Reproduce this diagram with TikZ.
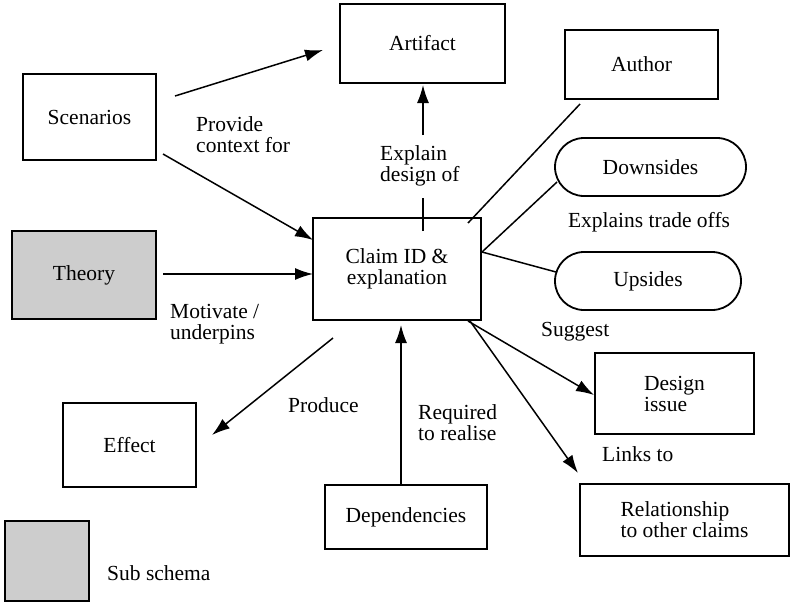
\documentclass[tikz,border=0pt]{standalone}
\usepackage{fontspec}
\setmainfont{Liberation Serif}
\usetikzlibrary{arrows.meta}
\definecolor{subgray}{RGB}{205,205,205}
\tikzset{
  every node/.style={font=\fontsize{21.5}{21}\selectfont},
  box/.style={draw, line width=1.8pt, inner sep=0pt, align=center},
  pill/.style={box, rounded corners=29pt},
  lbl/.style={inner sep=0pt, align=left, anchor=west},
  conn/.style={line width=1.5pt},
  arr/.style={conn, -{Latex[length=18pt,width=12pt]}}
}
\begin{document}
\begin{tikzpicture}[x=1pt, y=-1pt]
  \useasboundingbox (0,0) rectangle (791,603);

  % boxes
  \node[box, minimum width=165pt, minimum height=79pt] (artifact) at (422.5,43.5) {Artifact};
  \node[box, minimum width=133pt, minimum height=86pt] (scen) at (89.5,117) {Scenarios};
  \node[box, fill=subgray, minimum width=144pt, minimum height=88pt] (theory) at (84,275) {Theory};
  \node[box, minimum width=153pt, minimum height=69pt] (author) at (641.5,64.5) {Author};
  \node[pill, minimum width=191pt, minimum height=58pt] (down) at (650.5,167) {Downsides};
  \node[box, minimum width=168pt, minimum height=102pt] (claim) at (397,269) {Claim ID \&\\explanation};
  \node[pill, minimum width=186pt, minimum height=58pt] (up) at (648,281) {Upsides};
  \node[box, align=left, minimum width=159pt, minimum height=81pt] (design) at (674.5,393.5) {Design\\issue};
  \node[box, align=left, minimum width=209pt, minimum height=72pt] (rel) at (684.5,520) {Relationship\\to other claims};
  \node[box, minimum width=133pt, minimum height=84pt] (effect) at (129.5,445) {Effect};
  \node[box, minimum width=162pt, minimum height=64pt] (dep) at (406,517) {Dependencies};
  \node[box, fill=subgray, minimum width=84pt, minimum height=80pt] (sub) at (47,561) {};

  % connector end points
  \coordinate (sA) at (175,96);   \coordinate (aS) at (323,50);
  \coordinate (sC) at (163,154);  \coordinate (cS) at (313,240);
  \coordinate (tC) at (163,274);  \coordinate (cT) at (313,274);
  \coordinate (cA1) at (423,231); \coordinate (cA2) at (423,198);
  \coordinate (cA3) at (423,135); \coordinate (aC) at (423,85);
  \coordinate (cAu) at (468,223); \coordinate (auC) at (580,104);
  \coordinate (cR) at (482,252);
  \coordinate (dC) at (557,182);  \coordinate (uC) at (556,272);
  \coordinate (cD) at (468,321);  \coordinate (dsC) at (594,395);
  \coordinate (cRl) at (470,321); \coordinate (rC) at (578,473);
  \coordinate (cE) at (333,338);  \coordinate (eC) at (212,435);
  \coordinate (depC) at (401,485); \coordinate (cDep) at (401,325);

  % connectors
  \draw[arr] (sA) -- (aS);
  \draw[arr] (sC) -- (cS);
  \draw[arr] (tC) -- (cT);
  \draw[conn] (cA1) -- (cA2);
  \draw[arr] (cA3) -- (aC);
  \draw[conn] (cAu) -- (auC);
  \draw[conn] (cR) -- (dC);
  \draw[conn] (cR) -- (uC);
  \draw[arr] (cD) -- (dsC);
  \draw[arr] (cRl) -- (rC);
  \draw[arr] (cE) -- (eC);
  \draw[arr] (depC) -- (cDep);

  % labels
  \node[lbl] (lprov) at (196,134.5) {Provide\\context for};
  \node[lbl] (lexpl) at (380,165.5) {Explain\\design of};
  \node[inner sep=0pt] (ltrade) at (649,222) {Explains trade offs};
  \node[lbl] (lmot) at (170,324.5) {Motivate /\\underpins};
  \node[lbl] (lsug) at (541,332) {Suggest};
  \node[lbl] (lprod) at (288,405) {Produce};
  \node[lbl] (lreq) at (418,422.5) {Required\\to realise};
  \node[lbl] (llink) at (602,454) {Links to};
  \node[lbl] (lsub) at (107,573) {Sub schema};
\end{tikzpicture}
\end{document}
